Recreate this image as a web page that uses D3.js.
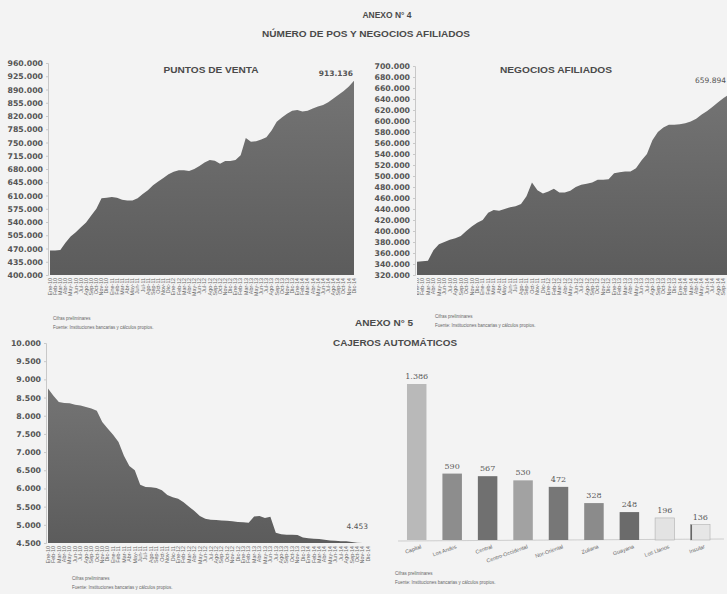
<!DOCTYPE html>
<html>
<head>
<meta charset="utf-8">
<script src="https://cdn.jsdelivr.net/npm/d3@7"></script>
<style>
  body { margin: 0; background: #f3f3f3; }
  svg { display: block; }
</style>
</head>
<body>
<div id="container"></div>
<script>
// monthly categories used by the three area charts
var monthNames = ["Ene","Feb","Mar","Abr","May","Jun","Jul","Ago","Sep","Oct","Nov","Dic"];
var yearNames = ["10","11","12","13","14"];
var months = [];
yearNames.forEach(function(y) { monthNames.forEach(function(m) { months.push(m + "-" + y); }); });

// Anexo 4 - puntos de venta (thousands)
var posValues = [465,465,466,485,502,513,526,539,557,575,603,604,606,604,599,597,597,603,614,624,
  637,647,656,666,673,677,677,675,680,688,697,704,702,694,701,701,704,716,762,752,
  753,758,764,782,805,816,826,834,836,832,834,840,845,849,856,866,876,886,898,913.136];

// Anexo 4 - negocios afiliados
var negValues = [344,345,346,365,376,380,384,387,391,400,408,415,420,433,438,437,440,443,445,449,
  463,488,474,468,472,477,470,470,473,480,484,486,488,493,493,494,505,507,508,508,
  514,528,540,565,580,588,593,593,594,596,599,604,612,618,626,634,642,648,654,659.894];

// Anexo 5 - cajeros automaticos (units)
var atmValues = [8750,8550,8380,8350,8340,8300,8280,8240,8200,8140,7830,7650,7480,7280,6900,6620,6500,6100,6040,6030,
  6010,5950,5820,5760,5720,5620,5500,5380,5240,5170,5140,5130,5120,5110,5100,5080,5070,5060,5230,5240,
  5190,5220,4780,4740,4730,4730,4720,4650,4630,4620,4610,4590,4570,4560,4550,4545,4530,4510,4490,4453];

// Anexo 5 - cajeros por region
var regions = ["Capital","Los Andes","Central","Centro-Occidental","Nor-Oriental","Zuliana","Guayana","Los Llanos","Insular"];
var regionValues = [1386,590,567,530,472,328,248,196,136];
var regionColors = ["#b9b9b9","#8d8d8d","#707070","#a2a2a2","#777777","#8b8b8b","#6b6b6b","#e3e3e3","#e6e6e6"];

var posTicks = d3.range(400000, 960001, 35000);
var negTicks = d3.range(320000, 700001, 20000);
var atmTicks = d3.range(4500, 10001, 500);

var width = 727, height = 594;
var es = d3.formatLocale({decimal: ",", thousands: ".", grouping: [3], currency: ["", ""]});
var fmt = es.format(",");

var svg = d3.select("div#container")
  .append("svg")
  .attr("width", width)
  .attr("height", height);

var defs = svg.append("defs");
var grad = defs.append("linearGradient").attr("id", "areaGrad")
  .attr("x1", 0).attr("y1", 0).attr("x2", 0).attr("y2", 1);
grad.append("stop").attr("offset", "0%").attr("stop-color", "#747474");
grad.append("stop").attr("offset", "100%").attr("stop-color", "#5c5c5c");

svg.append("rect").attr("width", width).attr("height", height).style("fill", "#f3f3f3");

function title(txt, x, y, len) {
  svg.append("text").attr("x", x).attr("y", y)
    .attr("text-anchor", "middle")
    .attr("textLength", len).attr("lengthAdjust", "spacingAndGlyphs")
    .style("font-family", "Liberation Sans").style("font-weight", "bold")
    .style("font-size", "9.5px").style("fill", "#4a4a4a")
    .text(txt);
}

function notes(x, y) {
  svg.append("text").attr("x", x).attr("y", y)
    .style("font-family", "Liberation Sans").style("font-size", "4.5px").style("fill", "#666")
    .text("Cifras preliminares");
  svg.append("text").attr("x", x).attr("y", y + 9)
    .style("font-family", "Liberation Sans").style("font-size", "4.5px").style("fill", "#666")
    .text("Fuente: Instituciones bancarias y cálculos propios.");
}

function drawArea(cfg) {
  var x = d3.scalePoint().domain(months).range([cfg.x0, cfg.x1]);
  var y = d3.scaleLinear().domain(cfg.domain).range([cfg.y0, cfg.y1]).clamp(true);
  var g = svg.append("g");
  if (cfg.clip) {
    defs.append("clipPath").attr("id", cfg.clip)
      .append("rect").attr("x", cfg.x0).attr("y", 0).attr("width", width - cfg.x0).attr("height", height);
    g.attr("clip-path", "url(#" + cfg.clip + ")");
  }
  var area = d3.area()
    .x(function(d, i) { return x(months[i]); })
    .y0(cfg.y0)
    .y1(function(d) { return y(d); });
  g.append("path").datum(cfg.values)
    .attr("d", area)
    .style("fill", "url(#areaGrad)");

  // y axis
  var ax = svg.append("g").attr("transform", "translate(" + (cfg.x0 - 2) + ",0)")
    .call(d3.axisLeft(y).tickValues(cfg.ticks).tickSize(2).tickPadding(3).tickFormat(fmt));
  ax.select(".domain").style("stroke", "#c8c8c8");
  ax.selectAll(".tick line").style("stroke", "#c8c8c8");
  ax.selectAll("text")
    .style("font-family", "DejaVu Sans").style("font-weight", "bold")
    .style("font-size", "7.8px").style("fill", "#555");

  // month labels (only those inside the page)
  g.selectAll("text.mlab").data(months.filter(function(d) { return x(d) < width - 3; })).enter().append("text")
    .attr("class", "mlab")
    .attr("transform", function(d) { return "translate(" + (x(d) + 1.8) + "," + (cfg.y0 + 3) + ") rotate(-90)"; })
    .attr("text-anchor", "end")
    .style("font-family", "Liberation Sans").style("font-size", "5.4px").style("fill", "#6a6a6a")
    .text(function(d) { return d; });

  if (cfg.title) title(cfg.title, cfg.titleX, cfg.titleY, cfg.titleLen);
  svg.append("text").attr("x", cfg.lastX).attr("y", cfg.lastY)
    .attr("text-anchor", "end")
    .style("font-family", "DejaVu Sans").style("font-weight", cfg.lastWeight)
    .style("font-size", "7.5px").style("fill", "#555")
    .text(fmt(Math.round(cfg.values[cfg.values.length - 1])));
}

// page titles
title("ANEXO N° 4", 387, 18, 49);
title("NÚMERO DE POS Y NEGOCIOS AFILIADOS", 366, 37, 208);
title("ANEXO N° 5", 384, 326, 58);
title("CAJEROS AUTOMÁTICOS", 395, 346, 124);

drawArea({
  values: posValues.map(function(v) { return v * 1000; }), domain: [400000, 960000], ticks: posTicks,
  x0: 50, x1: 354, y0: 275, y1: 63,
  title: "PUNTOS DE VENTA", titleX: 211, titleY: 73, titleLen: 95,
  lastX: 353, lastY: 76, lastWeight: "bold"
});
notes(53, 320);

drawArea({
  values: negValues.map(function(v) { return v * 1000; }), domain: [320000, 700000], ticks: negTicks,
  x0: 417, x1: 740, y0: 275, y1: 66, clip: "negClip",
  title: "NEGOCIOS AFILIADOS", titleX: 556, titleY: 73, titleLen: 112,
  lastX: 726, lastY: 83, lastWeight: "normal"
});
notes(435, 318);

drawArea({
  values: atmValues, domain: [4500, 10000], ticks: atmTicks,
  x0: 48, x1: 368, y0: 543, y1: 343,
  lastX: 368, lastY: 529, lastWeight: "normal"
});
notes(72, 580);

// bar chart by region
var xb = d3.scaleBand().domain(regions).range([399, 718]).paddingInner(0.45).paddingOuter(0.225);
var yb = d3.scaleLinear().domain([0, 1386]).range([540, 384]);

svg.append("line").attr("x1", 398).attr("x2", 724).attr("y1", 541).attr("y2", 539)
  .style("stroke", "#c4c4c4").style("stroke-width", 0.8);

var bars = svg.selectAll("g.bar").data(regions).enter().append("g").attr("class", "bar");
bars.append("rect")
  .attr("x", function(d) { return xb(d); })
  .attr("y", function(d, i) { return yb(regionValues[i]); })
  .attr("width", xb.bandwidth())
  .attr("height", function(d, i) { return yb(0) - yb(regionValues[i]); })
  .style("fill", function(d, i) { return regionColors[i]; })
  .style("stroke", function(d, i) { return i >= 7 ? "#b0b0b0" : "none"; })
  .style("stroke-width", 0.6);
bars.filter(function(d) { return d === "Insular"; }).append("rect")
  .attr("x", function(d) { return xb(d); })
  .attr("y", yb(136))
  .attr("width", 1.5)
  .attr("height", yb(0) - yb(136))
  .style("fill", "#666");
bars.append("text")
  .attr("x", function(d) { return xb(d) + xb.bandwidth() / 2; })
  .attr("y", function(d, i) { return yb(regionValues[i]) - 5; })
  .attr("text-anchor", "middle")
  .style("font-family", "DejaVu Serif").style("font-size", "8px").style("fill", "#5a5a5a")
  .text(function(d, i) { return fmt(regionValues[i]); });
bars.append("text")
  .attr("transform", function(d) { return "translate(" + (xb(d) + xb.bandwidth() / 2 + 5) + ",548) rotate(-20)"; })
  .attr("text-anchor", "end")
  .style("font-family", "Liberation Sans").style("font-size", "5.4px").style("fill", "#666")
  .text(function(d) { return d; });

notes(395, 575);
</script>
</body>
</html>
